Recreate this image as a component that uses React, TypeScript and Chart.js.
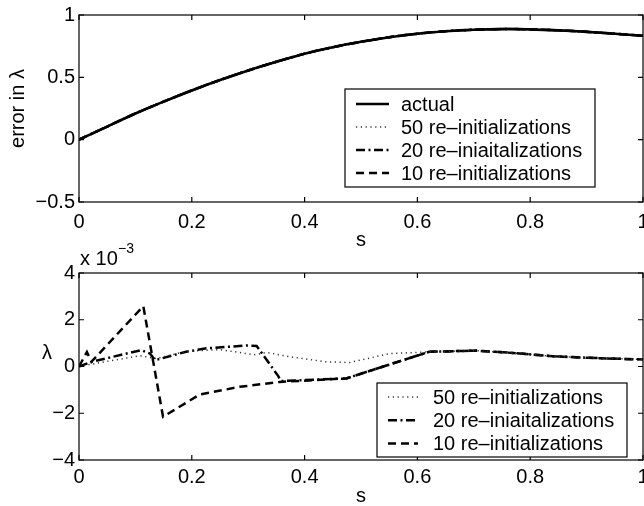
import React, { useEffect, useRef } from "react";
import { Chart, registerables } from "chart.js";

Chart.register(...registerables);

// ---------- data ----------
const X_TICKS = [0, 0.2, 0.4, 0.6, 0.8, 1];
const Y_TICKS_TOP = [-0.5, 0, 0.5, 1];
const Y_TICKS_BOTTOM = [-4, -2, 0, 2, 4]; // in units of 10^-3

// top panel: error in lambda (all estimates coincide with actual)
const S_TOP = [0, 0.05, 0.1, 0.15, 0.2, 0.25, 0.3, 0.35, 0.4, 0.45, 0.5, 0.55, 0.6, 0.65, 0.7, 0.75, 0.8, 0.85, 0.9, 0.95, 1];
const ERR_ACTUAL = [0, 0.105, 0.21, 0.305, 0.395, 0.478, 0.555, 0.625, 0.69, 0.742, 0.785, 0.822, 0.85, 0.87, 0.882, 0.887, 0.885, 0.877, 0.865, 0.85, 0.833];
const ERR_50 = ERR_ACTUAL;
const ERR_20 = ERR_ACTUAL;
const ERR_10 = ERR_ACTUAL;

// bottom panel: lambda (x 10^-3)
const S_50 = [0, 0.05, 0.108, 0.137, 0.19, 0.25, 0.285, 0.31, 0.333, 0.373, 0.438, 0.48, 0.55, 0.615, 0.704, 0.769, 0.84, 0.904, 1];
const L_50 = [0, 0.22, 0.46, 0.34, 0.65, 0.72, 0.6, 0.5, 0.6, 0.42, 0.2, 0.17, 0.55, 0.62, 0.68, 0.58, 0.44, 0.37, 0.3];

const S_20 = [0, 0.022, 0.11, 0.126, 0.135, 0.188, 0.226, 0.3, 0.315, 0.353, 0.358, 0.474, 0.621, 0.704, 0.769, 0.84, 0.904, 1];
const L_20 = [0, 0.2, 0.7, 0.55, 0.27, 0.62, 0.78, 0.9, 0.88, -0.4, -0.62, -0.51, 0.63, 0.68, 0.58, 0.44, 0.37, 0.3];

const S_10 = [0, 0.014, 0.022, 0.114, 0.149, 0.214, 0.285, 0.356, 0.474, 0.621, 0.704, 0.769, 0.84, 0.904, 1];
const L_10 = [0, 0.62, 0.2, 2.58, -2.15, -1.2, -0.87, -0.66, -0.51, 0.63, 0.68, 0.58, 0.44, 0.37, 0.3];

const LABEL_ACTUAL = "actual";
const LABEL_50 = "50 re\u2013initializations";
const LABEL_20 = "20 re\u2013iniaitalizations";
const LABEL_10 = "10 re\u2013initializations";

// ---------- styles ----------
const FONT_FAMILY = "'Liberation Sans', Arial, Helvetica, sans-serif";
const FONT = { family: FONT_FAMILY, size: 20 };
const STYLE_ACTUAL = { borderColor: "#000", borderWidth: 2.6, borderDash: [] as number[] };
const STYLE_DOT = { borderColor: "#333", borderWidth: 1.5, borderDash: [1.2, 3.6] };
const STYLE_DASHDOT = { borderColor: "#000", borderWidth: 2.5, borderDash: [9, 3.5, 2, 3.5] };
const STYLE_DASH = { borderColor: "#000", borderWidth: 2.5, borderDash: [8, 5] };

const pts = (xs: number[], ys: number[]) => xs.map((x, i) => ({ x, y: ys[i] }));
const fmt = (v: number) => String(v).replace("-", "\u2212");

const matlabPlugin = {
  id: "matlab",
  afterDatasetsDraw(chart: any, _args: any, opts: any) {
    const { ctx, chartArea: a } = chart;
    const xs = chart.scales.x;
    const ys = chart.scales.y;
    ctx.save();
    // axes box
    ctx.strokeStyle = "#000";
    ctx.lineWidth = 1.2;
    ctx.setLineDash([]);
    ctx.strokeRect(a.left, a.top, a.right - a.left, a.bottom - a.top);
    const TL = 5;
    ctx.beginPath();
    xs.ticks.forEach((t: any) => {
      const p = xs.getPixelForValue(t.value);
      ctx.moveTo(p, a.bottom);
      ctx.lineTo(p, a.bottom - TL);
      ctx.moveTo(p, a.top);
      ctx.lineTo(p, a.top + TL);
    });
    ys.ticks.forEach((t: any) => {
      const p = ys.getPixelForValue(t.value);
      ctx.moveTo(a.left, p);
      ctx.lineTo(a.left + TL, p);
      ctx.moveTo(a.right, p);
      ctx.lineTo(a.right - TL, p);
    });
    ctx.stroke();

    // legend
    const L = opts.legend;
    if (L) {
      ctx.fillStyle = "#fff";
      ctx.fillRect(L.x, L.y, L.w, L.h);
      ctx.lineWidth = 1.2;
      ctx.strokeStyle = "#000";
      ctx.strokeRect(L.x, L.y, L.w, L.h);
      ctx.font = `20px ${FONT_FAMILY}`;
      ctx.textBaseline = "middle";
      ctx.textAlign = "left";
      chart.data.datasets.forEach((ds: any, i: number) => {
        const y = L.row0 + i * L.step;
        ctx.beginPath();
        ctx.strokeStyle = ds.borderColor;
        ctx.lineWidth = ds.borderWidth;
        ctx.setLineDash(ds.borderDash || []);
        ctx.moveTo(L.sx0, y);
        ctx.lineTo(L.sx1, y);
        ctx.stroke();
        ctx.setLineDash([]);
        ctx.fillStyle = "#000";
        ctx.fillText(ds.label, L.tx, y + 1);
      });
    }

    // extra texts
    (opts.texts || []).forEach((t: any) => {
      ctx.font = `${t.size}px ${FONT_FAMILY}`;
      ctx.fillStyle = "#000";
      ctx.textAlign = t.align || "left";
      ctx.textBaseline = t.baseline || "alphabetic";
      ctx.fillText(t.text, t.x, t.y);
    });
    ctx.restore();
  },
};

function makeScales(yTicks: number[], xH: number, xTl: number, yTitle: string | null) {
  return {
    x: {
      type: "linear",
      min: 0,
      max: 1,
      afterBuildTicks: (s: any) => {
        s.ticks = X_TICKS.map((v) => ({ value: v }));
      },
      grid: { display: false, drawTicks: true, tickLength: xTl },
      border: { display: false },
      ticks: { font: FONT, color: "#000", padding: 3, maxRotation: 0, autoSkip: false, callback: (v: number) => fmt(v) },
      title: { display: true, text: "s", font: FONT, color: "#000", padding: { top: 0, bottom: 0 } },
      afterFit: (s: any) => {
        s.height = xH;
        s.paddingLeft = 0;
        s.paddingRight = 0;
      },
    },
    y: {
      type: "linear",
      min: yTicks[0],
      max: yTicks[yTicks.length - 1],
      afterBuildTicks: (s: any) => {
        s.ticks = yTicks.map((v) => ({ value: v }));
      },
      grid: { display: false, drawTicks: false },
      border: { display: false },
      ticks: { font: FONT, color: "#000", padding: 4, autoSkip: false, callback: (v: number) => fmt(v) },
      title: { display: !!yTitle, text: yTitle || "", font: FONT, color: "#000", padding: { top: 6, bottom: 0 } },
      afterFit: (s: any) => {
        s.width = 79;
        s.paddingTop = 0;
        s.paddingBottom = 0;
      },
    },
  };
}

function useChart(ref: React.RefObject<HTMLCanvasElement>, build: () => any) {
  useEffect(() => {
    if (!ref.current) return;
    const chart = new Chart(ref.current, build());
    return () => chart.destroy();
  }, []);
}

export default function App() {
  const topRef = useRef<HTMLCanvasElement>(null);
  const botRef = useRef<HTMLCanvasElement>(null);

  useChart(topRef, () => ({
    type: "line",
    data: {
      datasets: [
        { label: LABEL_ACTUAL, data: pts(S_TOP, ERR_ACTUAL), ...STYLE_ACTUAL },
        { label: LABEL_50, data: pts(S_TOP, ERR_50), ...STYLE_DOT },
        { label: LABEL_20, data: pts(S_TOP, ERR_20), ...STYLE_DASHDOT },
        { label: LABEL_10, data: pts(S_TOP, ERR_10), ...STYLE_DASH },
      ].map((d) => ({ ...d, pointRadius: 0, fill: false, tension: 0.3 })),
    },
    options: {
      responsive: false,
      animation: false,
      layout: { padding: { top: 15, right: 1, left: 0, bottom: 0 } },
      plugins: {
        legend: { display: false },
        tooltip: { enabled: false },
        matlab: {
          legend: { x: 345, y: 89, w: 250, h: 98, row0: 104, step: 23, sx0: 356, sx1: 389, tx: 401 },
        },
      },
      scales: makeScales(Y_TICKS_TOP, 50, 5, "error in \u03bb"),
    },
    plugins: [matlabPlugin],
  }));

  useChart(botRef, () => ({
    type: "line",
    data: {
      datasets: [
        { label: LABEL_50, data: pts(S_50, L_50), ...STYLE_DOT },
        { label: LABEL_20, data: pts(S_20, L_20), ...STYLE_DASHDOT },
        { label: LABEL_10, data: pts(S_10, L_10), ...STYLE_DASH },
      ].map((d) => ({ ...d, pointRadius: 0, fill: false, tension: 0 })),
    },
    options: {
      responsive: false,
      animation: false,
      layout: { padding: { top: 37, right: 1, left: 0, bottom: 0 } },
      plugins: {
        legend: { display: false },
        tooltip: { enabled: false },
        matlab: {
          legend: { x: 377, y: 147, w: 250, h: 74, row0: 161, step: 23.3, sx0: 388, sx1: 418, tx: 433 },
          texts: [
            { text: "x 10", x: 80, y: 29, size: 20 },
            { text: "\u22123", x: 118, y: 17, size: 14 },
            { text: "\u03bb", x: 47, y: 117, size: 20, align: "center", baseline: "middle" },
          ],
        },
      },
      scales: makeScales(Y_TICKS_BOTTOM, 48, 2, null),
    },
    plugins: [matlabPlugin],
  }));

  return (
    <div style={{ position: "absolute", left: 0, top: 0, width: 644, height: 506, background: "#fff" }}>
      <canvas ref={topRef} width={644} height={252} style={{ position: "absolute", left: 0, top: 0, width: 644, height: 252 }} />
      <canvas ref={botRef} width={644} height={272} style={{ position: "absolute", left: 0, top: 236, width: 644, height: 272 }} />
    </div>
  );
}
